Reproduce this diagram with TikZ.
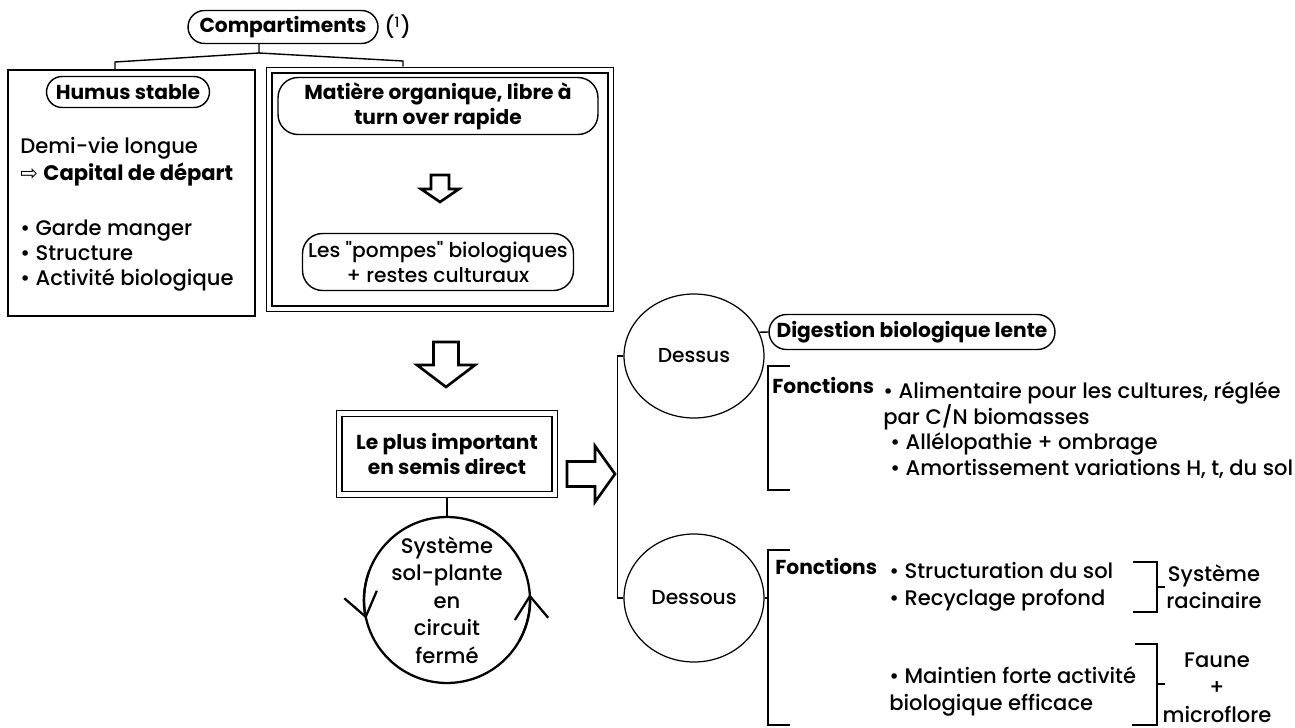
\documentclass[tikz,border=0pt]{standalone}
\usepackage{fontspec}
\setmainfont{Poppins}[Ligatures=TeXOff, UprightFont=* Medium, BoldFont=* Bold]
\newfontfamily\symfont{DejaVu Sans}
\usetikzlibrary{shapes.geometric,arrows.meta}

\begin{document}
\begin{tikzpicture}[x=0.02cm, y=-0.02cm,
  font=\fontsize{12}{14.2}\selectfont,
  hd/.style={font=\fontsize{11.5}{14.2}\selectfont\bfseries},
  pill/.style={draw, rectangle, line width=0.8pt, inner sep=0pt, align=center},
  frame/.style={draw, line width=0.8pt, inner sep=0pt},
  dframe/.style={draw, double, double distance=2.6pt, line width=0.7pt, inner sep=0pt, outer sep=2pt},
  blk/.style={draw, line width=1.5pt, line join=miter},
  bubble/.style={draw, ellipse, line width=0.7pt, inner sep=0pt, font=\fontsize{11.5}{14}\selectfont},
  lst/.style={align=left, inner sep=0pt},
  brk/.style={line width=0.8pt},
  loop/.style={line width=1.3pt, -{Straight Barb[length=13pt, width=19pt]}}]
\useasboundingbox (0,0) rectangle (1295,727);

% compartiments
\node[pill, hd, rounded corners=0.33cm, minimum width=3.8cm, minimum height=0.66cm] (comp) at (283,27) {Compartiments};
\node[anchor=west, inner sep=0pt] (note) at (384,27) {(\textsuperscript{1})};

\node[frame, minimum width=4.94cm, minimum height=4.92cm] (lbox) at (131.5,193) {};
\node[dframe, minimum width=6.84cm, minimum height=4.78cm] (rbox) at (440,189.5) {};

\coordinate (fork) at (259,53);
\draw[brk] (fork |- comp.south) -- (fork) -- (115,62) -- (115,62 |- lbox.north);
\draw[brk] (fork) -- (403,61) -- (403,61 |- rbox.north);

% humus stable
\node[pill, hd, rounded corners=0.31cm, minimum width=3.26cm, minimum height=0.62cm] (humus) at (128,92) {Humus stable};
\node[lst, anchor=west, font=\fontsize{12}{15.3}\selectfont] (demi) at (20,161.5)
  {Demi-vie longue\\{\symfont ⇨} \textbf{Capital de départ}};
\node[lst, anchor=west] (roles) at (20,256)
  {\textbullet{} Garde manger\\\textbullet{} Structure\\\textbullet{} Activité biologique};

% matiere organique libre
\node[pill, hd, rounded corners=0.4cm, minimum width=6.4cm, minimum height=1.14cm] (mat) at (438,106)
  {Matière organique, libre à\\turn over rapide};
\coordinate (a1) at (440,175);
\draw[blk] (a1) ++(-9,0) -- ++(18,0) -- ++(0,14) -- ++(10,0) -- ++(-19,13) -- ++(-19,-13) -- ++(10,0) -- cycle;
\node[pill, rounded corners=0.4cm, minimum width=5.42cm, minimum height=1.14cm,
      font=\fontsize{11.5}{14.2}\selectfont] (pompes) at (438,262)
  {Les "pompes" biologiques\\+ restes culturaux};

% le plus important
\coordinate (a2) at (446,342);
\draw[blk] (a2) ++(-12.5,0) -- ++(25,0) -- ++(0,23) -- ++(16.5,0) -- ++(-29,22) -- ++(-29,-22) -- ++(16.5,0) -- cycle;
\node[dframe, hd, align=center, minimum width=4.32cm, minimum height=1.63cm] (plus) at (447,454)
  {Le plus important\\en semis direct};
\coordinate (a3) at (567,474);
\draw[blk] (a3) ++(0,-12.5) -- ++(28,0) -- ++(0,-15.5) -- ++(20,28) -- ++(-20,28) -- ++(0,-15.5) -- ++(-28,0) -- cycle;

% circuit ferme
\node[circle, draw, line width=1.3pt, minimum size=3.32cm, inner sep=-6pt, outer sep=0pt, align=center,
      font=\fontsize{12}{15.6}\selectfont] (sys) at (447,600)
  {Système\\sol-plante\\en\\circuit\\fermé};
\draw[brk] (plus) -- (sys);
\draw[loop] (sys.160) arc[start angle=160, end angle=193, radius=1.66cm];
\draw[loop] (sys.-30) arc[start angle=-30, end angle=4, radius=1.66cm];

% dessus / dessous
\node[bubble, minimum width=2.8cm, minimum height=2.48cm] (dessus) at (694,356) {Dessus};
\node[bubble, minimum width=2.8cm, minimum height=2.56cm] (dessous) at (694,598) {Dessous};
\draw[brk] (dessus.west) -- ++(-6,0) |- (dessous.west);

\node[pill, hd, rounded corners=0.35cm, minimum width=5.72cm, minimum height=0.7cm] (dig) at (912,332) {Digestion biologique lente};
\draw[brk] (dessus.20) -- (dig.west);

\node[hd, anchor=west, inner sep=0pt] (fonc1) at (772,385) {Fonctions};
\node[lst, anchor=west, font=\fontsize{12}{14.7}\selectfont] (alim) at (883,430)
  {\textbullet{} Alimentaire pour les cultures, réglée\\par C/N biomasses\\
   \hspace{4pt}\textbullet{} Allélopathie + ombrage\\\hspace{4pt}\textbullet{} Amortissement variations H, t, du sol};
\draw[brk] (790,366) -- (768,366) -- (768,490) -- (790,490);

\draw[brk] (dessous.east) -- (768,598);
\draw[brk] (790,550) -- (768,550) -- (768,725) -- (790,725);
\node[hd, anchor=west, inner sep=0pt] (fonc2) at (775,566) {Fonctions};

\node[lst, anchor=west, font=\fontsize{12}{15.3}\selectfont] (struct) at (889,586.5)
  {\textbullet{} Structuration du sol\\\textbullet{} Recyclage profond};
\draw[brk] (1133,562) -- (1157,562) -- (1157,612) -- (1133,612);
\draw[brk] (1157,587) -- (1165,587);
\node[align=center, inner sep=0pt, font=\fontsize{12}{15.3}\selectfont] (racin) at (1214,586.5) {Système\\racinaire};

\node[lst, anchor=west, font=\fontsize{12}{15.3}\selectfont] (maint) at (889,691.5)
  {\textbullet{} Maintien forte activité\\biologique efficace};
\draw[brk] (1135,644) -- (1157,644) -- (1157,725) -- (1132,725);
\draw[brk] (1157,684) -- (1165,684);
\node[align=center, inner sep=0pt, font=\fontsize{12}{15.6}\selectfont] (faune) at (1217,687.5)
  {Faune\\+\\microflore};
\end{tikzpicture}
\end{document}
